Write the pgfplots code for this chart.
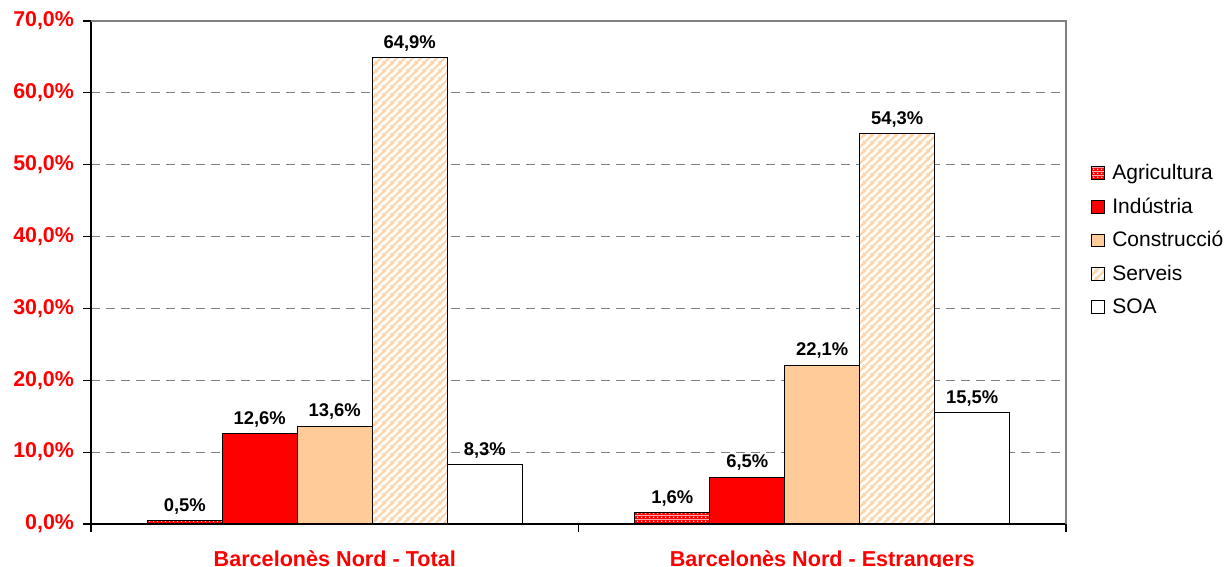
\documentclass[border=0pt]{standalone}
\usepackage{pgfplots}
\pgfplotsset{compat=1.18}
\usetikzlibrary{patterns}
\usepackage{fontspec}
\setmainfont{Liberation Sans}
\definecolor{peach}{HTML}{FFCC99}
\definecolor{stripe}{HTML}{FFD2A6}
\definecolor{axred}{HTML}{FF0000}

\pgfdeclarepatterninherentlycolored{reddots}{\pgfpointorigin}{\pgfpoint{2pt}{2pt}}{\pgfpoint{2pt}{2pt}}{%
  \pgfsetfillcolor{red}\pgfpathrectangle{\pgfpointorigin}{\pgfpoint{2pt}{2pt}}\pgfusepath{fill}%
  \pgfsetfillcolor{white}\pgfpathcircle{\pgfpoint{1pt}{1pt}}{0.45pt}\pgfusepath{fill}}

\pgfdeclarepatterninherentlycolored{orstripes}{\pgfpointorigin}{\pgfpoint{4pt}{4pt}}{\pgfpoint{4pt}{4pt}}{%
  \pgfsetfillcolor{white}\pgfpathrectangle{\pgfpointorigin}{\pgfpoint{4pt}{4pt}}\pgfusepath{fill}%
  \pgfsetstrokecolor{stripe}\pgfsetlinewidth{1.1pt}%
  \pgfpathmoveto{\pgfpoint{-1pt}{-1pt}}\pgfpathlineto{\pgfpoint{5pt}{5pt}}%
  \pgfpathmoveto{\pgfpoint{-1pt}{3pt}}\pgfpathlineto{\pgfpoint{1pt}{5pt}}%
  \pgfpathmoveto{\pgfpoint{3pt}{-1pt}}\pgfpathlineto{\pgfpoint{5pt}{1pt}}%
  \pgfusepath{stroke}}

\begin{document}
\begin{tikzpicture}[x=1pt,y=1pt]
\useasboundingbox (-45.5,-21.5) rectangle (568.5,262);
\begin{axis}[
  at={(0,0)}, anchor=south west,
  width=487.5pt, height=251.5pt, scale only axis,
  xmin=-0.5, xmax=1.5, ymin=0, ymax=70,
  ybar=0pt, bar width=37.5pt,
  axis x line*=bottom, axis y line*=left,
  axis line style={black, line width=0.6pt},
  xtick={0,1},
  xticklabels={Barcelonès Nord - Total, Barcelonès Nord - Estrangers},
  major x tick style={draw=none},
  minor xtick={-0.5,0.5,1.5},
  minor tick length=4pt,
  minor x tick style={black, line width=0.6pt},
  tick align=outside,
  major tick length=4pt,
  ytick={0,10,...,70},
  y tick style={black, line width=0.6pt},
  yticklabel={\pgfmathprintnumber[fixed,fixed zerofill,precision=1,use comma,assume math mode=true]{\tick}\%},
  yticklabel style={font=\bfseries\fontsize{10.7}{12}\selectfont, text=axred, xshift=-1pt},
  xticklabel style={font=\bfseries\fontsize{10.8}{12}\selectfont, text=axred, yshift=-6pt},
  ymajorgrids,
  major grid style={gray, dash pattern=on 4.5pt off 3pt, line width=0.5pt},
  nodes near coords={\pgfmathprintnumber[fixed,fixed zerofill,precision=1,use comma,assume math mode=true]{\pgfplotspointmeta}\%},
  nodes near coords style={font=\bfseries\fontsize{9.2}{11}\selectfont, text=black, inner sep=3pt},
  legend style={draw=none, fill=none, at={(1.019,0.739)}, anchor=north west,
    font=\fontsize{10.5}{12}\selectfont, row sep=0pt,
    nodes={inner sep=3.8pt}},
  legend cell align=left,
  legend image code/.code={\draw[#1] (0pt,-3.2pt) rectangle (6.4pt,3.2pt);},
  clip=false,
]
\addplot[draw=black, line width=0.5pt, pattern=reddots] coordinates {(0,0.5) (1,1.6)};
\addplot[draw=black, line width=0.5pt, fill=red] coordinates {(0,12.6) (1,6.5)};
\addplot[draw=black, line width=0.5pt, fill=peach] coordinates {(0,13.6) (1,22.1)};
\addplot[draw=black, line width=0.5pt, pattern=orstripes] coordinates {(0,64.9) (1,54.3)};
\addplot[draw=black, line width=0.5pt, fill=white] coordinates {(0,8.3) (1,15.5)};
\legend{Agricultura, Indústria, Construcció, Serveis, SOA}
\draw[gray, line width=0.6pt] (rel axis cs:0,1) -- (rel axis cs:1,1) -- (rel axis cs:1,0);
\end{axis}
\end{tikzpicture}
\end{document}
